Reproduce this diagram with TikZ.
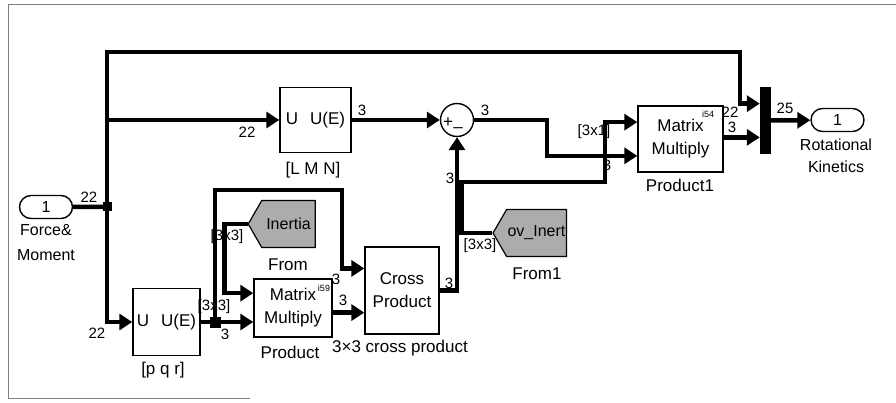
\documentclass[tikz,border=0pt]{standalone}
\usepackage{fontspec}
\setmainfont{Liberation Sans}
\usetikzlibrary{arrows.meta,shapes.symbols,shapes.misc,calc}

\begin{document}
\begin{tikzpicture}[x=1pt, y=-1pt,
  blk/.style={draw, line width=1.4pt, inner sep=0pt, align=center, font=\fontsize{17}{23}\selectfont},
  port/.style={draw, rounded rectangle, line width=1.4pt, minimum width=53pt, minimum height=23pt, inner sep=0pt, font=\fontsize{16}{18}\selectfont},
  tag/.style={draw, signal, signal to=west, signal pointer angle=120, fill=gray!65, line width=1.2pt, minimum width=67pt, minimum height=47pt, inner sep=1pt, font=\fontsize{16}{18}\selectfont},
  wire/.style={line width=4.5pt, -{Triangle[length=13pt,width=16pt]}},
  bus/.style={line width=4.5pt},
  lbl/.style={font=\fontsize{15}{17}\selectfont, inner sep=0pt},
  title/.style={font=\fontsize{17}{23}\selectfont, align=center, inner sep=0pt},
  jdot/.style={fill, minimum size=9pt, inner sep=0pt}]
  \useasboundingbox (0,0) rectangle (896,403);
  \draw[gray, line width=1pt] (896,5) -- (8,5) -- (8,398) -- (250,398);

  \node[port] (force) at (46,207) {1};
  \node[title, anchor=north, font=\fontsize{16}{25}\selectfont] (forcelbl) at (46,224) {Force\&\\Moment};
  \node[jdot] (j1) at (107,207) {};

  \node[blk, minimum width=71pt, minimum height=65pt] (lmn) at (315.5,120) {U\hspace{12pt}U(E)};
  \node[title] (lmnlbl) at (313,170) {[L M N]};
  \node[blk, minimum width=67pt, minimum height=67pt] (pqr) at (166.5,322) {U\hspace{12pt}U(E)};
  \node[title] (pqrlbl) at (163,370) {[p q r]};
  \node[jdot, minimum size=11pt] (j2) at (215,322) {};

  \node[draw, circle, line width=1.4pt, minimum size=33pt, inner sep=0pt] (sum) at (457,120) {};
  \node[font=\fontsize{17}{17}\selectfont, inner sep=0pt] (sump) at (448,123) {+};
  \node[font=\fontsize{17}{17}\selectfont, inner sep=0pt] (summ) at (458,130) {--};

  \node[tag] (from) at (288.5,224) {Inertia};
  \node[title] (fromlbl) at (288,265) {From};
  \node[blk, minimum width=78pt, minimum height=58pt] (prod) at (293,308) {Matrix\\Multiply};
  \node[title] (prodlbl) at (290,352) {Product};
  \node[font=\fontsize{9}{9}\selectfont, inner sep=0pt] (prodtag) at (324,288) {i59};
  \node[blk, minimum width=74pt, minimum height=87pt] (cross) at (402,290.5) {Cross\\Product};
  \node[title] (crosslbl) at (400,348) {3×3 cross product};

  \node[tag] (from1) at (536.5,233) {ov\_Inert};
  \node[title] (from1lbl) at (537,274) {From1};
  \node[blk, minimum width=85pt, minimum height=66pt] (prod1) at (680.5,139) {Matrix\\Multiply};
  \node[title] (prod1lbl) at (680,185) {Product1};
  \node[font=\fontsize{9}{9}\selectfont, inner sep=0pt] (prod1tag) at (708,114) {i54};

  \node[fill, minimum width=11pt, minimum height=67pt, inner sep=0pt] (mux) at (765.5,120.5) {};
  \node[port] (rot) at (837.5,120) {1};
  \node[title, anchor=north, font=\fontsize{16}{22}\selectfont] (rotlbl) at (836,139) {Rotational\\Kinetics};

  \coordinate (top) at (740,52);
  \coordinate (loop) at (342,190);
  \coordinate (f1) at (605,182);
  \coordinate (brk) at (j1 |- lmn);
  \coordinate (mux-a) at ($(mux.north west)!.25!(mux.south west)$);
  \coordinate (mux-b) at ($(mux.north west)!.75!(mux.south west)$);
  \coordinate (prod-a) at ($(prod.north west)!.25!(prod.south west)$);
  \coordinate (cross-a) at ($(cross.north west)!.25!(cross.south west)$);
  \coordinate (cross-b) at ($(cross.north west)!.75!(cross.south west)$);
  \coordinate (prod1-a) at ($(prod1.north west)!.25!(prod1.south west)$);
  \coordinate (prod1-b) at ($(prod1.north west)!.75!(prod1.south west)$);

  \node[lbl] at (89,197) {22};
  \node[lbl] at (97,333) {22};
  \node[lbl] at (247,132) {22};
  \node[lbl] at (362,110) {3};
  \node[lbl] at (485,110) {3};
  \node[lbl] at (225,334) {3};
  \node[lbl] at (214,307) {[3x3]};
  \node[lbl] at (227,237) {[3x3]};
  \node[lbl] at (336,279) {3};
  \node[lbl] at (343,300) {3};
  \node[lbl] at (449,283) {3};
  \node[lbl] at (450,178) {3};
  \node[lbl] at (480,246) {[3x3]};
  \node[lbl] at (594,132) {[3x1]};
  \node[lbl] at (607,165) {3};
  \node[lbl] at (730,112) {22};
  \node[lbl] at (732,127) {3};
  \node[lbl] at (785,108) {25};

  \draw[bus] (force) -- (j1.center);
  \draw[wire] (j1.center) |- (top) |- (mux-a);
  \draw[wire] (j1.center) |- (pqr);
  \draw[wire] (brk) -- (lmn);
  \draw[wire] (lmn) -- (sum);
  \draw[wire] (sum) -- ++(90,0) |- (prod1-b);
  \draw[bus] (pqr) -- (j2.center);
  \draw[wire] (j2.center) -- (j2 -| prod.west);
  \draw[wire] (j2.center) |- (loop) |- (cross-a);
  \draw[wire] (from.west) -- ++(-23,0) |- (prod-a);
  \draw[wire] (prod.east |- cross-b) -- (cross-b);
  \draw[wire] (cross) -| (sum);
  \draw[wire] (from1.west) -- ++(-31,0) |- (f1) |- (prod1-a);
  \draw[wire] (prod1.east |- mux-b) -- (mux-b);
  \draw[wire] (mux) -- (rot);
\end{tikzpicture}
\end{document}
